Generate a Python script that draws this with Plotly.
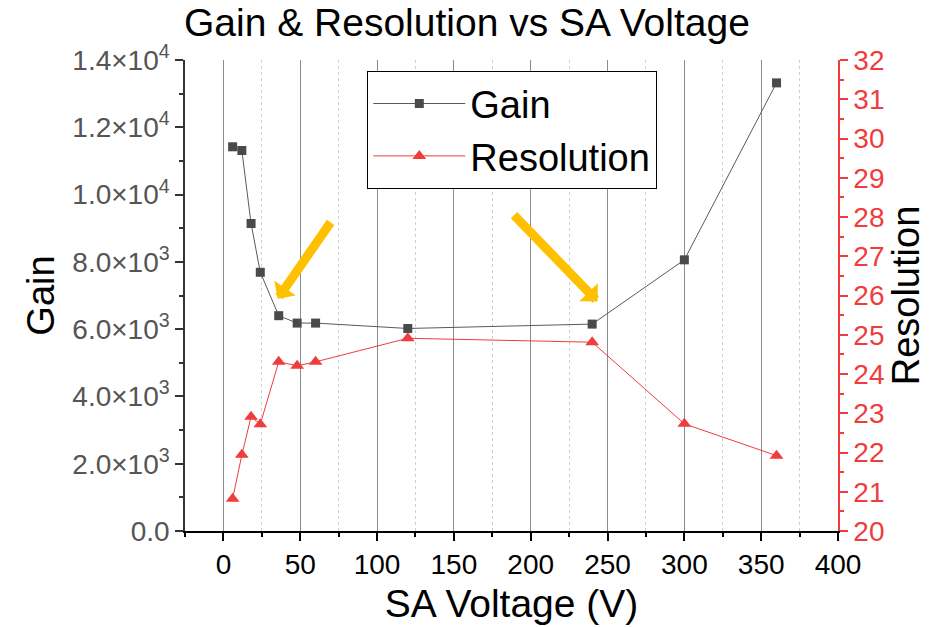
import plotly.graph_objects as go

# ---- data ----
voltage = [6, 12, 18, 24, 36, 48, 60, 120, 240, 300, 360]
gain = [11420, 11310, 9140, 7690, 6400, 6180, 6180, 6020, 6150, 8060, 13320]
resolution = [20.82, 21.94, 22.91, 22.72, 24.31, 24.21, 24.31, 24.91, 24.81, 22.73, 21.92]

x_ticks = [0, 50, 100, 150, 200, 250, 300, 350, 400]
gain_ticks = [0, 2000, 4000, 6000, 8000, 10000, 12000, 14000]
gain_ticktext = ["0.0", "2.0×10<sup>3</sup>", "4.0×10<sup>3</sup>", "6.0×10<sup>3</sup>",
                 "8.0×10<sup>3</sup>", "1.0×10<sup>4</sup>", "1.2×10<sup>4</sup>", "1.4×10<sup>4</sup>"]
res_ticks = list(range(20, 33))

# arrow annotations: (tip voltage, tip gain, tail offset px)
arrows = [(35.3, 6900, 54, -78), (243.5, 6820, -85, -88)]

FONT = "Arial, Liberation Sans, sans-serif"
RED = "#F03C3C"
GRAY = "#4A4A4A"

fig = go.Figure()
fig.add_trace(go.Scatter(
    x=voltage, y=gain, name="Gain", mode="lines+markers",
    line=dict(color="#5A5A5A", width=1),
    marker=dict(symbol="square", size=9, color=GRAY),
))
fig.add_trace(go.Scatter(
    x=voltage, y=resolution, name="Resolution", mode="lines+markers", yaxis="y2",
    line=dict(color=RED, width=1),
    marker=dict(symbol="triangle-up", size=12, color=RED),
))

annotations = []
for (tx, ty, ax, ay) in arrows:
    annotations.append(dict(
        x=tx, y=ty, xref="x", yref="y", ax=ax, ay=ay, text="",
        showarrow=True, arrowhead=1, arrowwidth=9, arrowsize=0.48,
        arrowcolor="#FFC000", standoff=0,
    ))

fig.update_layout(
    width=943, height=627,
    margin=dict(l=185, r=105, t=60, b=96),
    paper_bgcolor="white", plot_bgcolor="white",
    font=dict(family=FONT, color="black"),
    showlegend=True,
    title=dict(text="Gain & Resolution vs SA Voltage", font=dict(size=39, color="black"),
               x=184 / 943, xanchor="left", xref="container",
               y=1 - 22 / 627, yanchor="middle", yref="container", automargin=False),
    legend=dict(x=(367 - 185) / 653, y=(531 - 71) / 471, xanchor="left", yanchor="top",
                bgcolor="white", bordercolor="black", borderwidth=1.3,
                font=dict(size=38, color="black"), itemwidth=92,
                tracegroupgap=0),
    xaxis=dict(
        range=[-25, 400], tickvals=x_ticks, ticks="outside", ticklen=8, tickwidth=1.5,
        tickcolor="black", showline=True, linecolor="black", linewidth=1.5,
        zeroline=False, showgrid=True, gridcolor="#8C8C8C", gridwidth=1, automargin=False,
        tickfont=dict(size=28, color="black"),
        minor=dict(dtick=25, tick0=0, ticks="outside", ticklen=4, tickcolor="black",
                   showgrid=True, gridcolor="#D0D0D0", griddash="dot", gridwidth=1),
        title=dict(text="SA Voltage (V)", font=dict(size=39, color="black"), standoff=10),
    ),
    xaxis2=dict(
        range=[-25, 400], overlaying="x", side="top", anchor="y", tickvals=x_ticks,
        ticks="inside", ticklen=8, tickwidth=1.5, tickcolor="black",
        showline=True, linecolor="black", linewidth=1.5, showticklabels=False,
        showgrid=False, zeroline=False, automargin=False,
        minor=dict(dtick=25, tick0=0, ticks="inside", ticklen=4, tickcolor="black", showgrid=False),
    ),
    yaxis=dict(
        range=[0, 14000], tickvals=gain_ticks, ticktext=gain_ticktext,
        ticks="outside", ticklen=8, tickwidth=1.5, tickcolor="#333333",
        showline=True, linecolor="#333333", linewidth=1.5, showgrid=False, zeroline=False,
        automargin=False, tickfont=dict(size=28, color="#555555"),
        minor=dict(dtick=1000, tick0=0, ticks="outside", ticklen=4, tickcolor="#333333"),
        title=dict(text="Gain", font=dict(size=38, color="black"), standoff=6),
    ),
    yaxis2=dict(
        range=[20, 32], overlaying="y", side="right", tickvals=res_ticks,
        ticks="outside", ticklen=8, tickwidth=1.5, tickcolor=RED,
        showline=True, linecolor=RED, linewidth=1.5, showgrid=False, zeroline=False,
        automargin=False, tickfont=dict(size=28, color=RED),
        minor=dict(dtick=0.5, tick0=20, ticks="outside", ticklen=4, tickcolor=RED),
        title=dict(text="Resolution", font=dict(size=38, color="black"), standoff=4),
    ),
    annotations=annotations,
)

fig.write_html("out.html")
